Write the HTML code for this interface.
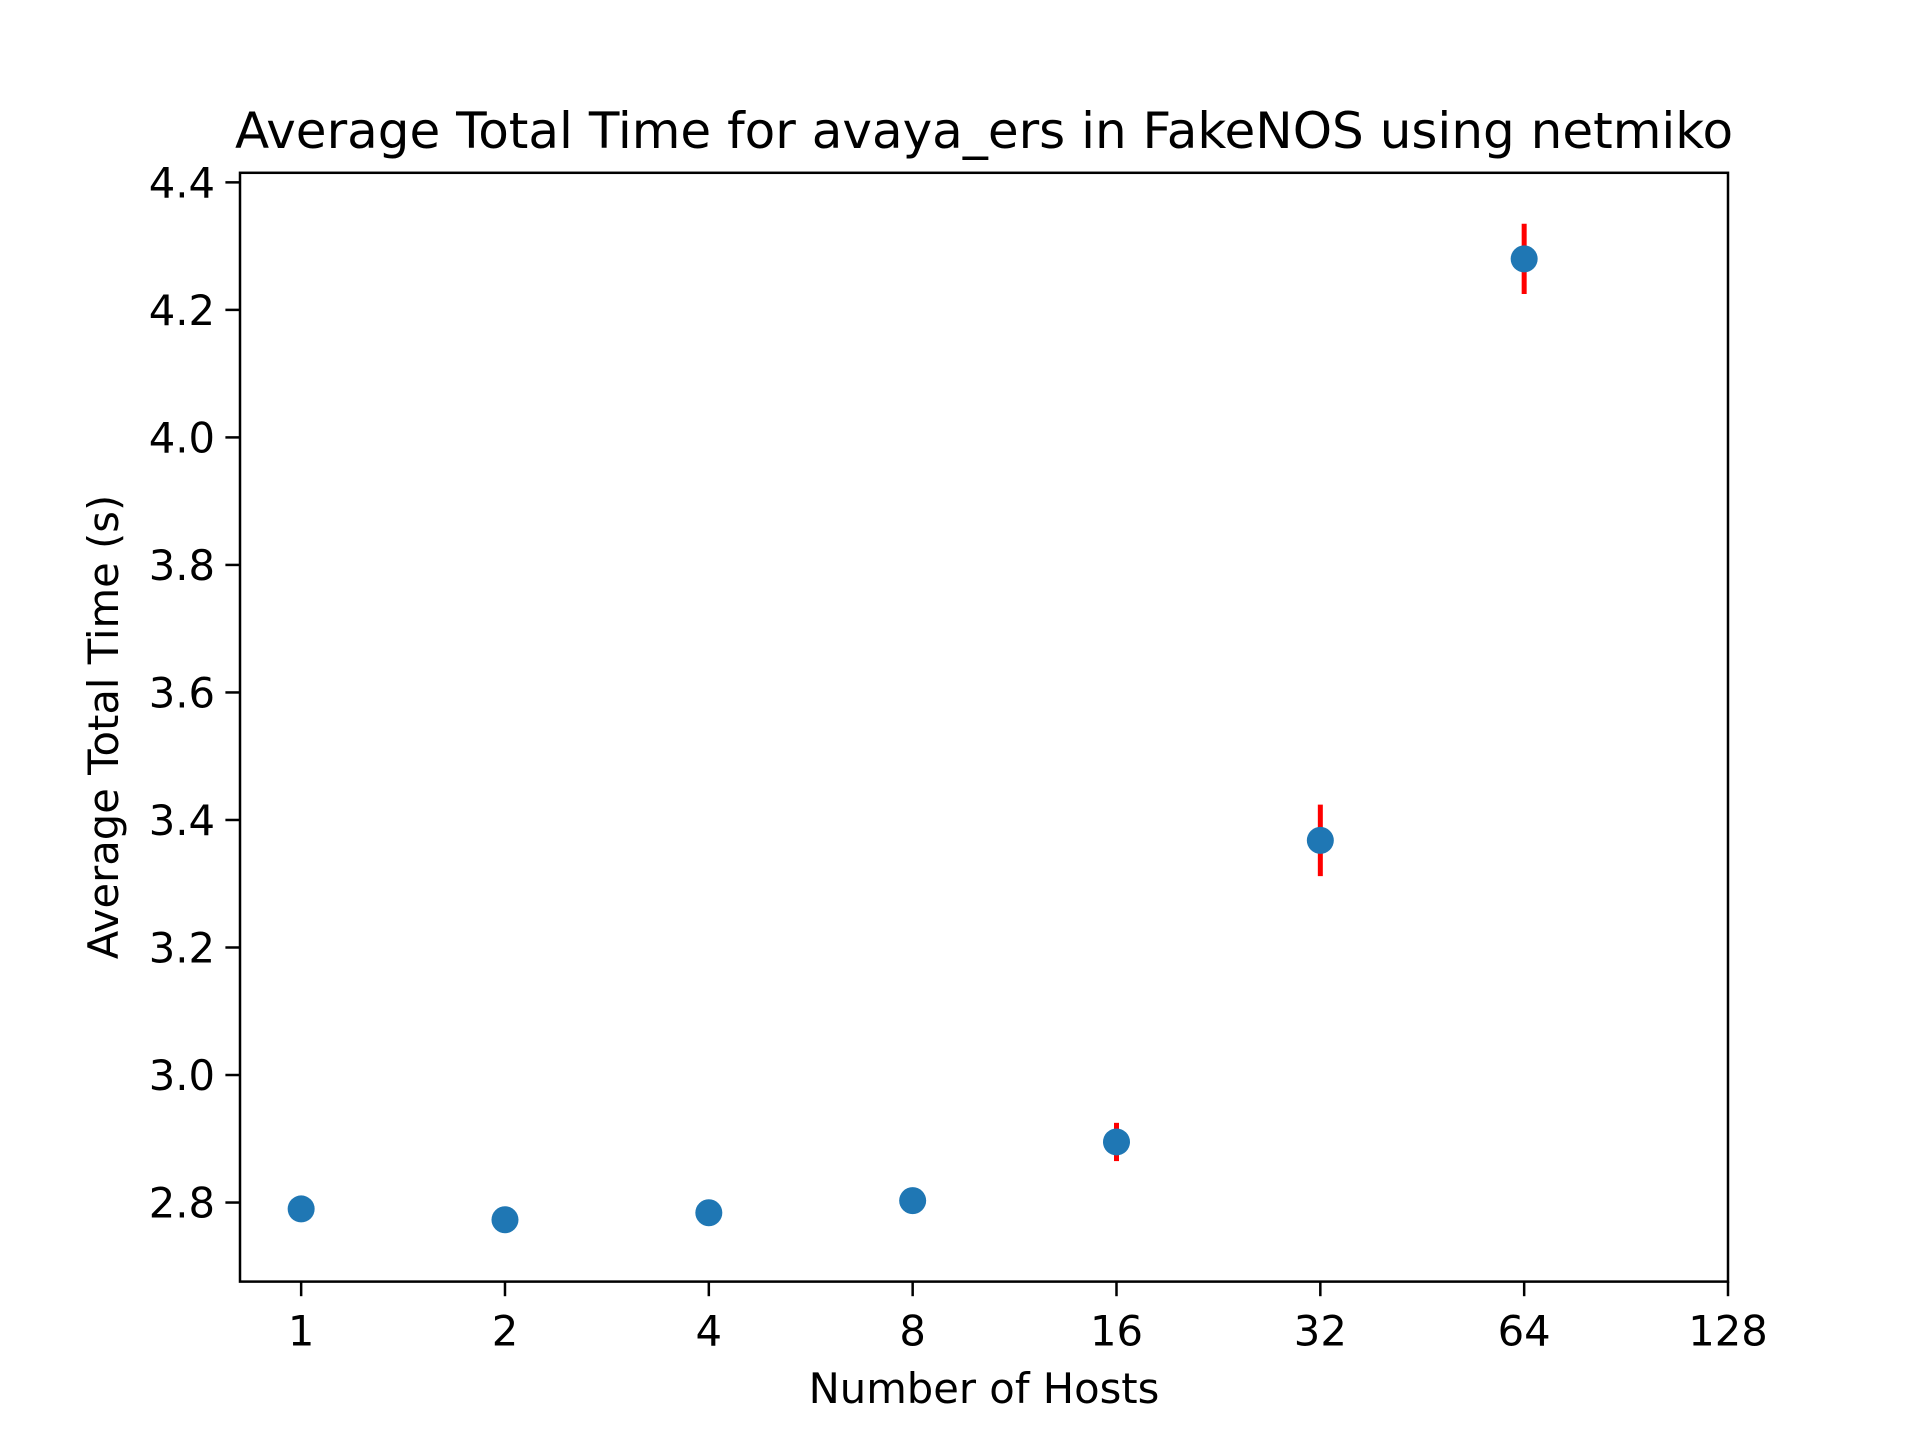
<!DOCTYPE html>
<html><head><meta charset="utf-8"><style>
html,body{margin:0;padding:0;background:#fff;}
svg text{font-family:"DejaVu Sans","Liberation Sans",sans-serif;fill:#000;}
</style></head><body>
<svg id="chart" width="1920" height="1440" viewBox="0 0 1920 1440" xmlns="http://www.w3.org/2000/svg">
<rect width="1920" height="1440" fill="#fff"/>
<text x="984" y="148" font-size="50" text-anchor="middle">Average Total Time for avaya_ers in FakeNOS using netmiko</text>
<text x="984" y="1403" font-size="41.7" text-anchor="middle">Number of Hosts</text>
<text transform="translate(118,727) rotate(-90)" font-size="41.7" text-anchor="middle">Average Total Time (s)</text>
<g id="marks"></g>
<rect x="240" y="172.8" width="1488" height="1108.8" fill="none" stroke="#000" stroke-width="2.5"/>
</svg>
<script>
const hosts = [1, 2, 4, 8, 16, 32, 64];
const avgTimes = [2.790, 2.773, 2.784, 2.803, 2.895, 3.368, 4.280];
const errors = [0.004, 0.004, 0.004, 0.006, 0.030, 0.056, 0.055];
const xTicks = [1, 2, 4, 8, 16, 32, 64, 128];
const yTicks = [2.8, 3.0, 3.2, 3.4, 3.6, 3.8, 4.0, 4.2, 4.4];

const L=240,R=1728,T=172.8,B=1281.6;
const xmin=-0.3,xmax=7, ymin=2.676, ymax=4.415;
const xs=v=>L+(Math.log2(v)-xmin)/(xmax-xmin)*(R-L);
const ys=v=>B-(v-ymin)/(ymax-ymin)*(B-T);
const NS="http://www.w3.org/2000/svg";
const g=document.getElementById('marks');
function mk(tag,attrs){const e=document.createElementNS(NS,tag);for(const k in attrs)e.setAttribute(k,attrs[k]);g.appendChild(e);return e;}
xTicks.forEach(t=>{
  const x=xs(t);
  const l=mk('line',{x1:x,x2:x,y1:B,y2:B+14.6,stroke:'#000','stroke-width':2.5});
  
  
  const tx=mk('text',{x:x,y:B+64,'font-size':41.7,'text-anchor':'middle'});
  tx.textContent=t;
  
  
});
yTicks.forEach(t=>{
  const y=ys(t);
  const l=mk('line',{x1:L-14.6,x2:L,y1:y,y2:y,stroke:'#000','stroke-width':2.5});
  
  
  const tx=mk('text',{x:L-25,y:y+15,'font-size':41.7,'text-anchor':'end'});
  tx.textContent=t.toFixed(1);
  
  
});
hosts.forEach((h,i)=>{
  const x=xs(h);
  const e=mk('line',{x1:x,x2:x,y1:ys(avgTimes[i]+errors[i]),y2:ys(avgTimes[i]-errors[i]),stroke:'#ff0000','stroke-width':5});
  
  
});
hosts.forEach((h,i)=>{
  const c=mk('circle',{cx:xs(h),cy:ys(avgTimes[i]),r:13.5,fill:'#1f77b4'});
  
  
});
</script>
</body></html>
